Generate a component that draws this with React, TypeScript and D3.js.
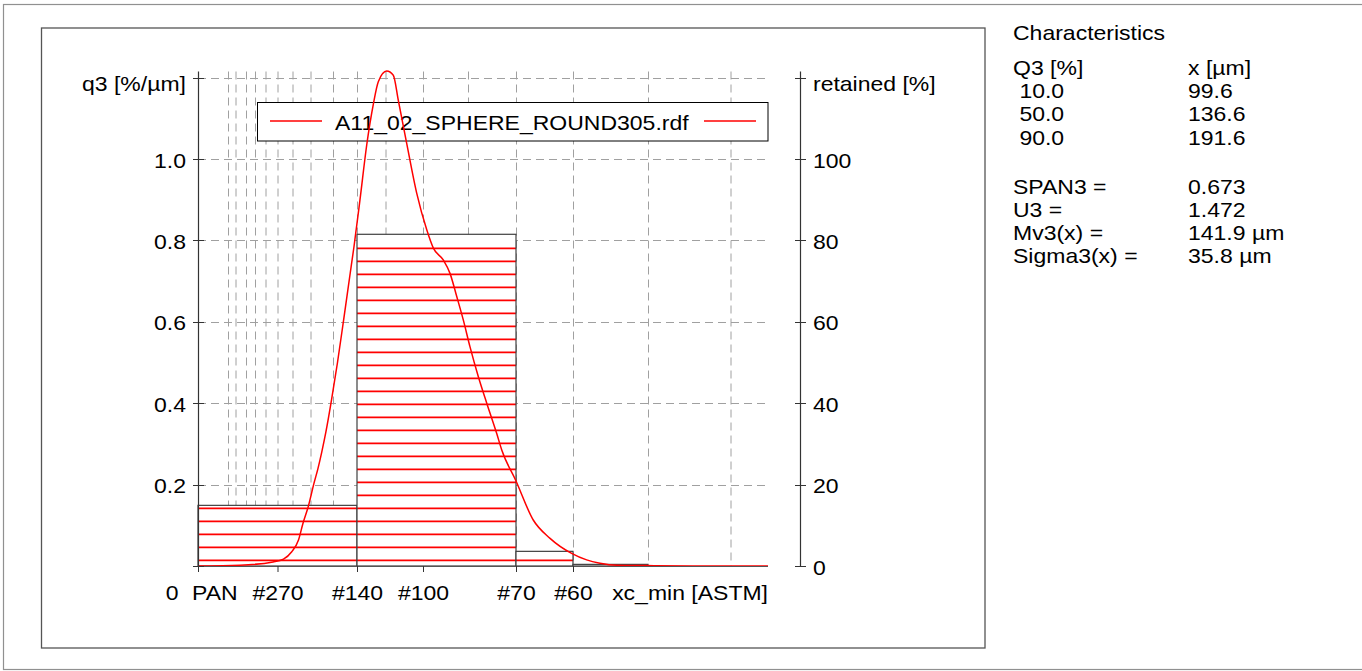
import React from "react";
import * as d3 from "d3";

// ---- data ----
const sieveGrid = [20, 25, 32, 38, 45, 53, 63, 75, 90, 106, 125, 150, 180, 212, 250, 300, 355];
const xTickVals = [0, 53, 106, 150, 212, 250];
const xTickLabels = ["PAN", "#270", "#140", "#100", "#70", "#60"];
const leftTicks = [0, 0.2, 0.4, 0.6, 0.8, 1.0, 1.2];
const leftTickLabels = ["", "0.2", "0.4", "0.6", "0.8", "1.0", "q3 [%/µm]"];
const rightTicks = [0, 20, 40, 60, 80, 100, 120];
const rightTickLabels = ["0", "20", "40", "60", "80", "100", "retained [%]"];

const binLo = [0, 106, 212, 250];
const binHi = [106, 212, 250, 300];
const retained = [14.9, 81.5, 3.6, 0.4];

const curveX = [0, 28, 50, 57, 62.5, 67, 70, 73.5, 77.3, 80, 82.5, 85.3, 89.1, 93, 96.9, 101.3, 104, 108, 112.5, 116.9, 120.2, 125.8, 130.2, 133.5, 139.1, 145.8, 152.5, 156.9, 163.5, 168, 172.5, 176.9, 181.3, 186.9, 192.5, 199.1, 202.5, 212, 223.5, 234.7, 249.1, 259.1, 268, 279, 299, 330, 380];
const curveY = [0, 0.002, 0.01, 0.017, 0.035, 0.064, 0.105, 0.146, 0.203, 0.24, 0.28, 0.33, 0.41, 0.5, 0.6, 0.715, 0.785, 0.9, 1.035, 1.135, 1.19, 1.216, 1.206, 1.145, 1.039, 0.916, 0.826, 0.781, 0.752, 0.719, 0.662, 0.604, 0.539, 0.465, 0.4, 0.326, 0.285, 0.209, 0.113, 0.068, 0.031, 0.015, 0.007, 0.002, 0.001, 0, 0];

const legendLabel = "A11_02_SPHERE_ROUND305.rdf";

const charTitle = "Characteristics";
const charCol1 = ["Q3 [%]", " 10.0", " 50.0", " 90.0"];
const charCol2 = ["x [µm]", "99.6", "136.6", "191.6"];
const statNames = ["SPAN3 =", "U3 =", "Mv3(x) =", "Sigma3(x) ="];
const statValues = ["0.673", "1.472", "141.9 µm", "35.8 µm"];

const FONT = "'Liberation Sans', Arial, sans-serif";
const SX = 1.15;

function T({ x, y, anchor, children }: { x: number; y: number; anchor?: string; children: React.ReactNode }) {
  return (
    <text
      transform={`translate(${x},${y}) scale(${SX},1)`}
      textAnchor={anchor || "start"}
      style={{ whiteSpace: "pre" }}
    >
      {children}
    </text>
  );
}

export default function App() {
  const W = 1362, H = 671;
  const x = d3.scaleLinear().domain([0, 380]).range([198, 768]);
  const yL = d3.scaleLinear().domain([0, 1]).range([566, 159]);
  const yR = d3.scaleLinear().domain([0, 100]).range([566, 159]);
  const plotTop = 71.5;
  const base = yL(0);

  const line = d3
    .line<number>()
    .x((_, i) => x(curveX[i]))
    .y((d) => yL(d))
    .curve(d3.curveMonotoneX);

  const hatchYs = d3.range(560.3, 60, -13);

  return (
    <svg
      width={W}
      height={H}
      style={{ position: "absolute", left: 0, top: 0, background: "#fff" }}
      fontFamily={FONT}
      fontSize={20}
      fill="#000"
    >
      <rect x={0} y={0} width={W} height={H} fill="#fff" />
      {/* frames */}
      <rect x={3.5} y={4.5} width={1362} height={665} fill="none" stroke="#909090" strokeWidth={1.2} />
      <rect x={41.5} y={28} width={943.5} height={620} fill="none" stroke="#555" strokeWidth={1.3} />

      {/* grid */}
      <g stroke="#a0a0a0" strokeWidth={1} strokeDasharray="8,5">
        {sieveGrid.map((s, i) => (
          <line key={"v" + i} x1={x(s) + 0.5} x2={x(s) + 0.5} y1={plotTop} y2={base} />
        ))}
        {leftTicks.slice(1).map((t, i) => (
          <line key={"h" + i} x1={x(0)} x2={x(380)} y1={Math.round(yL(t)) + 0.5} y2={Math.round(yL(t)) + 0.5} />
        ))}
      </g>

      {/* bars */}
      {retained.map((r, i) => {
        const x0 = x(binLo[i]);
        const x1 = x(binHi[i]);
        const top = yR(r);
        return (
          <g key={"b" + i}>
            <rect x={x0} y={top} width={x1 - x0} height={base - top} fill="#fff" />
            {hatchYs
              .filter((hy) => hy > top + 1.5 && hy < base - 1)
              .map((hy, j) => (
                <line key={j} x1={x0} x2={x1} y1={hy} y2={hy} stroke="#ff0000" strokeWidth={1.7} />
              ))}
            <rect x={x0} y={top} width={x1 - x0} height={base - top} fill="none" stroke="#404040" strokeWidth={1.2} />
          </g>
        );
      })}

      {/* legend */}
      <rect x={257.5} y={102.5} width={510.5} height={38.5} fill="#fff" stroke="#000" strokeWidth={1} />
      <line x1={270} x2={322} y1={121} y2={121} stroke="red" strokeWidth={1.5} />
      <line x1={704} x2={756} y1={121} y2={121} stroke="red" strokeWidth={1.5} />
      <T x={335} y={130}>{legendLabel}</T>

      {/* curve */}
      <path d={line(curveY) || ""} fill="none" stroke="#ff0000" strokeWidth={1.5} />

      {/* x axis */}
      <line x1={x(0)} x2={x(380)} y1={base + 0.5} y2={base + 0.5} stroke="#555" strokeWidth={1} />
      {xTickVals.map((v, i) => (
        <line key={"xt" + i} x1={x(v) + 0.5} x2={x(v) + 0.5} y1={base} y2={base + 6} stroke="#333" strokeWidth={1} />
      ))}
      {xTickLabels.map((l, i) =>
        i === 0 ? (
          <T key={"xl" + i} x={x(xTickVals[i]) - 6} y={599.5}>{l}</T>
        ) : (
          <T key={"xl" + i} x={x(xTickVals[i]) + 0.5} y={599.5} anchor="middle">{l}</T>
        )
      )}
      <T x={x(0) - 19.5} y={599.5} anchor="end">0</T>
      <T x={x(380)} y={599.5} anchor="end">xc_min [ASTM]</T>

      {/* left axis */}
      <line x1={198.5} x2={198.5} y1={plotTop} y2={base} stroke="#333" strokeWidth={1.2} />
      {leftTicks.map((t, i) => (
        <line key={"lt" + i} x1={193} x2={204} y1={Math.round(yL(t)) + 0.5} y2={Math.round(yL(t)) + 0.5} stroke="#333" strokeWidth={1} />
      ))}
      {leftTickLabels.map((l, i) =>
        i === leftTicks.length - 1 ? (
          <T key={"ll" + i} x={186} y={yL(leftTicks[i]) + 13.5} anchor="end">{l}</T>
        ) : (
          <T key={"ll" + i} x={186} y={yL(leftTicks[i]) + 8.5} anchor="end">{l}</T>
        )
      )}

      {/* right axis */}
      <line x1={800.5} x2={800.5} y1={plotTop} y2={base} stroke="#333" strokeWidth={1.2} />
      {rightTicks.map((t, i) => (
        <line key={"rt" + i} x1={795} x2={806} y1={Math.round(yR(t)) + 0.5} y2={Math.round(yR(t)) + 0.5} stroke="#333" strokeWidth={1} />
      ))}
      {rightTickLabels.map((l, i) =>
        i === rightTicks.length - 1 ? (
          <T key={"rl" + i} x={813} y={yR(rightTicks[i]) + 13.5}>{l}</T>
        ) : (
          <T key={"rl" + i} x={813} y={yR(rightTicks[i]) + 8.5}>{l}</T>
        )
      )}

      {/* characteristics panel */}
      <T x={1013} y={40}>{charTitle}</T>
      {charCol1.map((t, i) => (
        <T key={"c1" + i} x={1013} y={74.5 + i * 23.4}>{t}</T>
      ))}
      {charCol2.map((t, i) => (
        <T key={"c2" + i} x={1188} y={74.5 + i * 23.4}>{t}</T>
      ))}
      {statNames.map((t, i) => (
        <T key={"s1" + i} x={1013} y={193.5 + i * 23.2}>{t}</T>
      ))}
      {statValues.map((t, i) => (
        <T key={"s2" + i} x={1188} y={193.5 + i * 23.2}>{t}</T>
      ))}
    </svg>
  );
}
